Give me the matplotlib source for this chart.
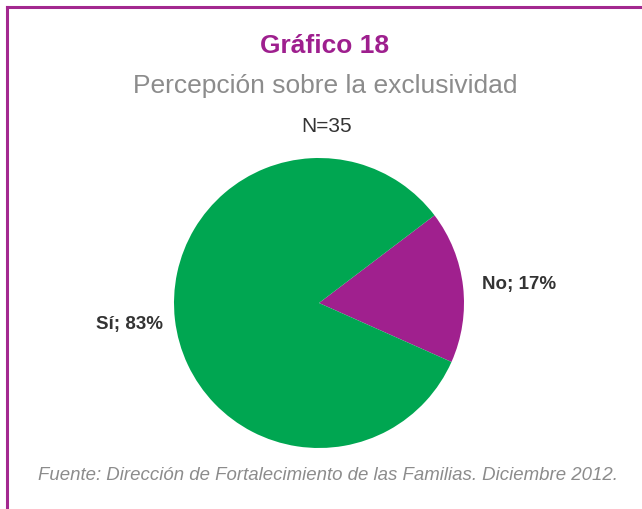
import matplotlib.pyplot as plt
from matplotlib.lines import Line2D

plt.rcParams["font.family"] = ["Liberation Sans", "DejaVu Sans"]

# ===================== 数据 =====================
labels = ["No", "Sí"]
values = [17, 83]
colors = ["#A0208E", "#00A651"]

TITLE = "Gráfico 18"
SUBTITLE = "Percepción sobre la exclusividad"
N_TEXT = "N=35"
SOURCE = "Fuente: Dirección de Fortalecimiento de las Familias. Diciembre 2012."

W, H = 642, 509
fig = plt.figure(figsize=(W / 100, H / 100), dpi=100)

# 饼图位置（像素）
cx, cy, r = 319, 303, 145
ax = fig.add_axes([(cx - r) / W, 1 - (cy + r) / H, 2 * r / W, 2 * r / H])
ax.pie(values, colors=colors, startangle=-24, counterclock=True, radius=1,
       wedgeprops={"linewidth": 0})
ax.set_xlim(-1, 1)
ax.set_ylim(-1, 1)
ax.set_aspect("auto")
ax.axis("off")

# 外框（左侧和顶部）
purple = "#A3288F"
fig.add_artist(Line2D([7 / W, 1], [1 - 7 / H, 1 - 7 / H], color=purple, lw=2.2,
                      transform=fig.transFigure))
fig.add_artist(Line2D([7 / W, 7 / W], [0, 1 - 7 / H], color=purple, lw=2.2,
                      transform=fig.transFigure))

fig.text(325 / W, 1 - 46 / H, TITLE, color="#9E1F8E", fontsize=19,
         fontweight="bold", ha="center", va="center")
fig.text(325 / W, 1 - 86 / H, SUBTITLE, color="#8C8C8C", fontsize=19,
         ha="center", va="center")
fig.text(327 / W, 1 - 126 / H, N_TEXT, color="#333333", fontsize=15,
         ha="center", va="center")

fig.text(96 / W, 1 - 325 / H, f"{labels[1]}; {values[1]}%", color="#333333",
         fontsize=13.5, fontweight="bold", ha="left", va="center")
fig.text(482 / W, 1 - 284 / H, f"{labels[0]}; {values[0]}%", color="#333333",
         fontsize=13.5, fontweight="bold", ha="left", va="center")

fig.text(327.5 / W, 1 - 475 / H, SOURCE, color="#8C8C8C", fontsize=13.4,
         style="italic", ha="center", va="center")

fig.savefig("out.png", dpi=100)
